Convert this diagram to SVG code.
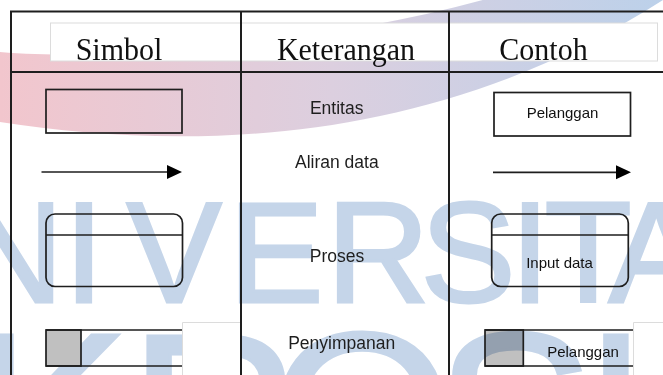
<svg xmlns="http://www.w3.org/2000/svg" width="663" height="375" viewBox="0 0 663 375">
  <defs>
    <linearGradient id="band" gradientUnits="userSpaceOnUse" x1="0" y1="0" x2="663" y2="0">
      <stop offset="0" stop-color="#f2c6cd"/>
      <stop offset="0.5" stop-color="#dccfdf"/>
      <stop offset="1" stop-color="#bcd1ea"/>
    </linearGradient>
    <marker id="arrow" markerUnits="userSpaceOnUse" markerWidth="16" markerHeight="16" refX="3" refY="7" orient="auto">
      <path d="M0,0 L15,7 L0,14 Z" fill="#000"/>
    </marker>
  </defs>
  <style>
    .tbl { stroke: #1e1e1e; stroke-width: 2; fill: none; }
    .shape { stroke: #1e1e1e; stroke-width: 1.7; fill: none; }
    .head { font-family: "Liberation Serif", "Times New Roman", serif; font-size: 30px; fill: #111; text-anchor: middle; }
    .lbl { font-family: "Liberation Sans", Arial, sans-serif; font-size: 17.5px; fill: #1e1e1e; text-anchor: middle; }
    .ex { font-family: "Liberation Sans", Arial, sans-serif; font-size: 15px; fill: #111; text-anchor: middle; }
    .wm { font-family: "Liberation Sans", Arial, sans-serif; fill: #c5d5e9; stroke: #c5d5e9; stroke-width: 3; text-anchor: middle; }
    .tbox { fill: #fff; stroke: #dcdcdc; stroke-width: 1; }
  </style>

  <rect x="0" y="0" width="663" height="375" fill="#fff"/>

  <!-- watermark swoosh -->
  <path d="M0,52 C120,62 320,45 490,-2 L663,-2 L663,0 C430,150 180,150 0,122 Z" fill="url(#band)"/>

  <!-- header text box -->
  <rect class="tbox" x="50.5" y="23" width="607" height="38"/>

  <!-- watermark letters -->
  <g class="wm" font-size="142">
    <text x="12" y="302">N</text>
    <text x="84" y="302">I</text>
    <text x="174" y="302">V</text>
    <text x="276" y="302">E</text>
    <text x="378" y="302">R</text>
    <text x="468" y="302">S</text>
    <text x="530" y="302">I</text>
    <text x="588" y="302">T</text>
    <text x="656" y="302">A</text>
  </g>
  <g class="wm" font-size="240">
    <text x="50" y="500">K</text>
    <text x="215" y="500">R</text>
    <text x="362" y="500">O</text>
    <text x="515" y="500">S</text>
    <text x="665" y="500">K</text>
  </g>

  <!-- storage text boxes -->
  <rect x="182.5" y="322.5" width="58" height="54" fill="#fff"/>
  <rect x="633.5" y="322.5" width="31" height="54" fill="#fff"/>
  <path d="M633.5,376 V322.5 H663" fill="none" stroke="#dcdcdc" stroke-width="1"/>
  <path d="M182.5,376 V322.5 H240" fill="none" stroke="#dcdcdc" stroke-width="1"/>

  <!-- table grid -->
  <g id="table">
    <path class="tbl" d="M11,11.5 H663 M11,72 H663 M11,10.5 V375 M241,10.5 V375 M449,10.5 V375"/>
    <g transform="translate(0,60) scale(1,1.07) translate(0,-60)">
      <text class="head" x="119" y="60">Simbol</text>
      <text class="head" x="346" y="60">Keterangan</text>
      <text class="head" x="543.5" y="60">Contoh</text>
    </g>
  </g>

  <!-- Entitas row -->
  <g id="entitas-symbol">
    <rect class="shape" x="46" y="89.5" width="136" height="43.5"/>
  </g>
  <g id="entitas-label"><text class="lbl" x="336.7" y="114">Entitas</text></g>
  <g id="entitas-example">
    <rect class="shape" x="494" y="92.5" width="136.5" height="43.5"/>
    <text class="ex" x="562.5" y="118.3">Pelanggan</text>
  </g>

  <!-- Aliran data row -->
  <g id="connectors">
    <line class="shape" x1="41.5" y1="172" x2="170" y2="172" stroke-width="2" marker-end="url(#arrow)"/>
    <line class="shape" x1="493" y1="172.3" x2="619" y2="172.3" stroke-width="2" marker-end="url(#arrow)"/>
  </g>
  <g id="aliran-label"><text class="lbl" x="336.8" y="168">Aliran data</text></g>

  <!-- Proses row -->
  <g id="proses-symbol">
    <rect class="shape" x="46" y="214" width="136.5" height="72.5" rx="9"/>
    <line class="shape" x1="46" y1="235" x2="182.5" y2="235"/>
  </g>
  <g id="proses-label"><text class="lbl" x="337" y="261.7">Proses</text></g>
  <g id="proses-example">
    <rect class="shape" x="491.7" y="214" width="136.6" height="72.5" rx="9"/>
    <line class="shape" x1="491.7" y1="235" x2="628.3" y2="235"/>
    <text class="ex" x="559.5" y="267.7" font-size="16">Input data</text>
  </g>

  <!-- Penyimpanan row -->
  <g id="storage-symbol">
    <rect x="46" y="330" width="35" height="36" fill="#c0c0c0" stroke="#1e1e1e" stroke-width="1.7"/>
    <path class="shape" d="M46,330 H182 M46,366 H182"/>
  </g>
  <g id="storage-label"><text class="lbl" x="341.7" y="349.3">Penyimpanan</text></g>
  <g id="storage-example">
    <rect x="485" y="330" width="38.3" height="36" fill="#c0c0c0" style="mix-blend-mode:multiply"/>
    <rect x="485" y="330" width="38.3" height="36" fill="none" stroke="#1e1e1e" stroke-width="1.7"/>
    <path class="shape" d="M485,330 H633 M485,366 H633"/>
    <text class="ex" x="583" y="357.3">Pelanggan</text>
  </g>
</svg>
